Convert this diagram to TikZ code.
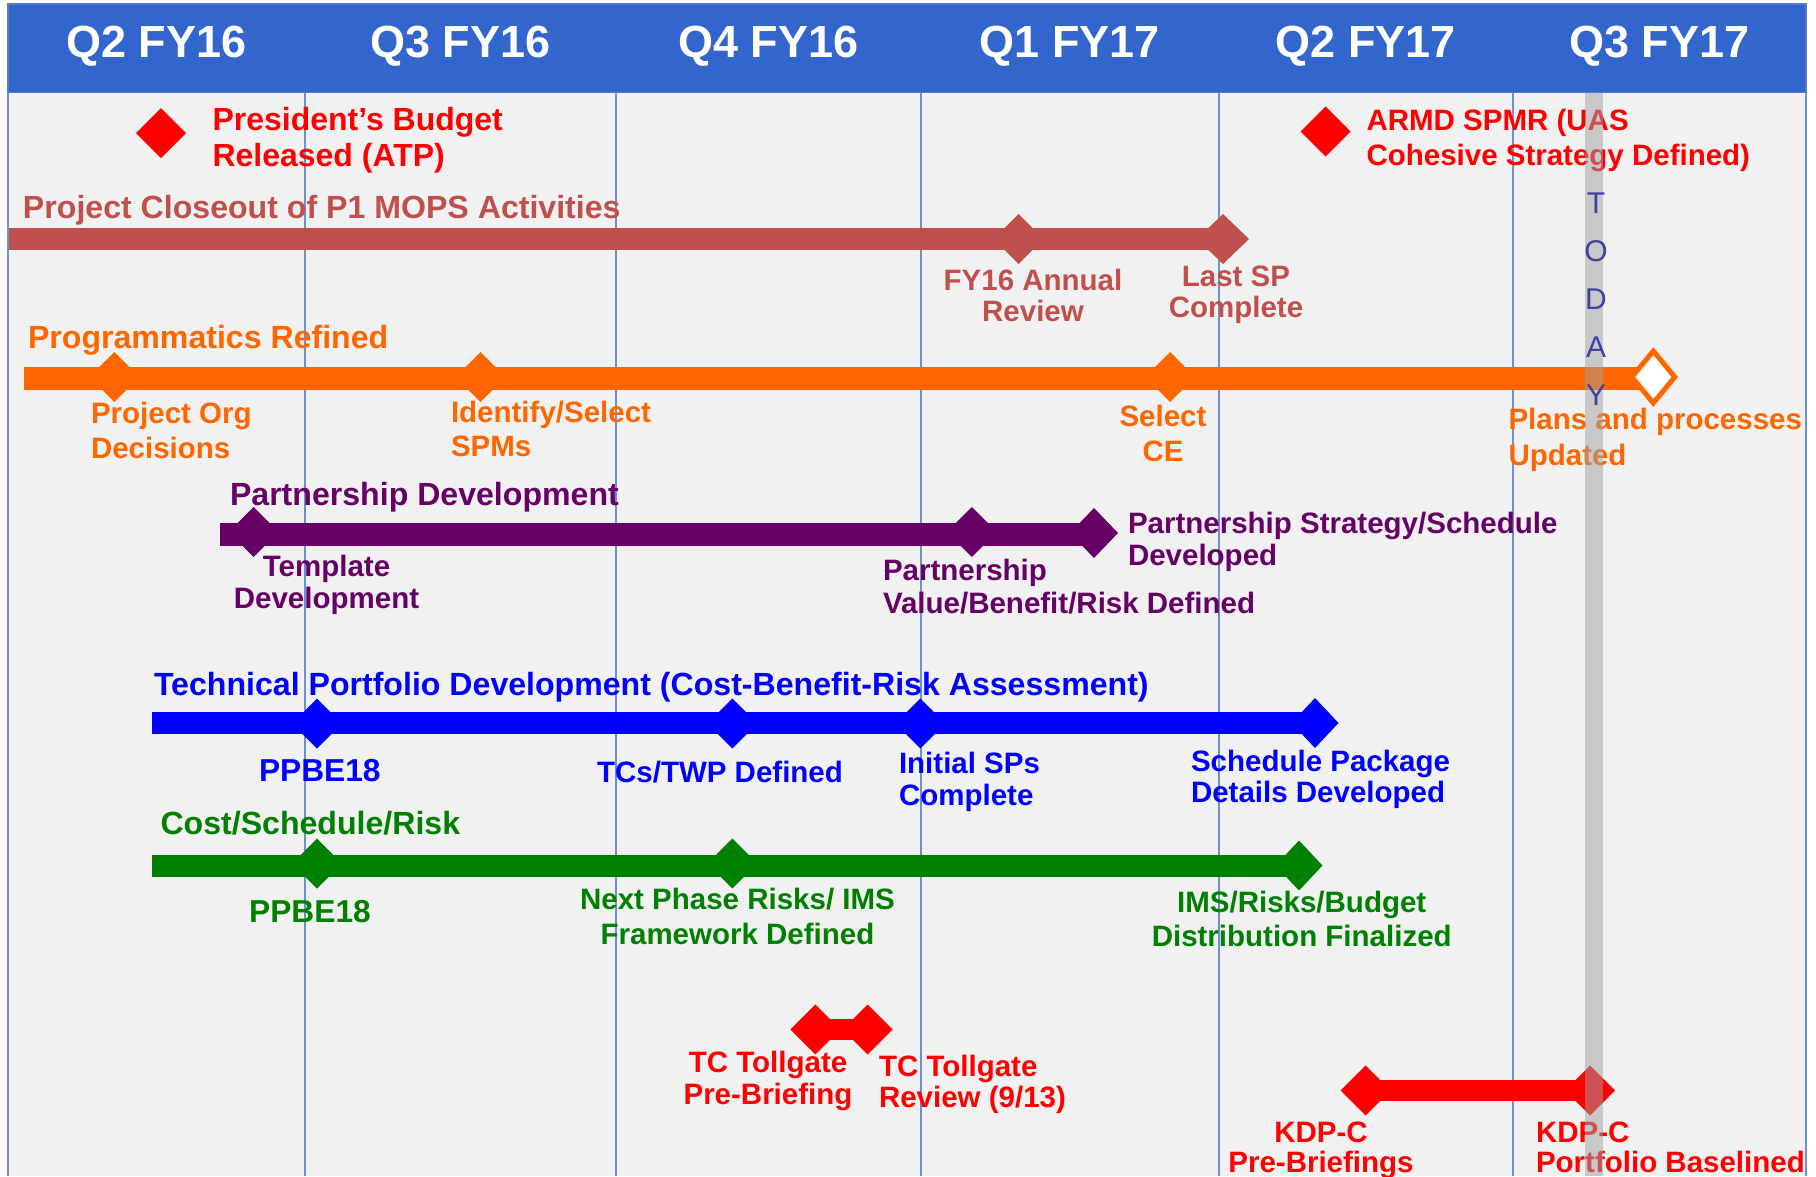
\documentclass[tikz,border=0pt]{standalone}
\usepackage{fontspec}
\setmainfont{Liberation Sans}
\usetikzlibrary{shapes.geometric}
\pgfdeclarelayer{back}
\pgfdeclarelayer{mid}
\pgfdeclarelayer{front}
\pgfsetlayers{back,mid,main,front}
\definecolor{hdr}{RGB}{51,102,204}
\definecolor{hdredge}{RGB}{85,125,195}
\definecolor{panel}{RGB}{241,241,241}
\definecolor{gridc}{RGB}{105,145,212}
\definecolor{brick}{RGB}{192,80,77}
\definecolor{orng}{RGB}{255,102,0}
\definecolor{purp}{RGB}{102,0,102}
\definecolor{blu}{RGB}{0,0,255}
\definecolor{grn}{RGB}{0,128,0}
\definecolor{rd}{RGB}{255,0,0}
\definecolor{todayc}{RGB}{64,64,160}
\definecolor{todaybar}{RGB}{160,160,160}
\begin{document}
\begin{tikzpicture}[x=1pt,y=-1pt,
  lft/.style={inner sep=0pt, outer sep=0pt, anchor=base west, align=left, font=\fontsize{29.5}{#1}\selectfont\bfseries},
  lft/.default=33,
  ctr/.style={inner sep=0pt, outer sep=0pt, anchor=base, align=center, font=\fontsize{29.5}{#1}\selectfont\bfseries},
  ctr/.default=33,
  ttl/.style={inner sep=0pt, outer sep=0pt, anchor=base west, font=\fontsize{32.1}{36}\selectfont\bfseries},
  ms/.style={shape=diamond, fill=#1, inner sep=0pt, outer sep=0pt, minimum width=50pt, minimum height=50pt},
  barline/.style={line width=22pt, draw=#1},
  qtr/.style={inner sep=0pt, anchor=base, text=white, font=\fontsize{45}{48}\selectfont\bfseries},
]
\useasboundingbox (0,0) rectangle (1816,1176);
\begin{pgfonlayer}{back}
  \fill[white] (0,0) rectangle (1816,1176);
  \fill[panel] (8,92) rectangle (1806,1176);
  \foreach \gx in {305,616,921,1219,1513}
    \draw[gridc, line width=1.3pt] (\gx,92) -- (\gx,1176);
  \draw[gridc, line width=1.6pt] (8,92) -- (8,1176);
  \draw[gridc, line width=1.6pt] (1806,92) -- (1806,1176);
  \filldraw[fill=hdr, draw=hdredge, line width=1.5pt] (8,4) rectangle (1806,92.5);
\end{pgfonlayer}

% header
\node[qtr] (h1) at (156.5,57.5) {Q2 FY16};
\node[qtr] (h2) at (460.5,57.5) {Q3 FY16};
\node[qtr] (h3) at (768.5,57.5) {Q4 FY16};
\node[qtr] (h4) at (1070,57.5) {Q1 FY17};
\node[qtr] (h5) at (1366,57.5) {Q2 FY17};
\node[qtr] (h6) at (1659.5,57.5) {Q3 FY17};

% row 1
\node[ms=rd] (pb) at (161,133) {};
\node[lft=36, text=rd, font=\fontsize{32}{36}\selectfont\bfseries] (pbt) at (212.5,166) {President’s Budget\\Released (ATP)};
\node[ms=rd] (armd) at (1325.6,131.5) {};
\node[lft=35, text=rd] (armdt) at (1366.5,165) {ARMD SPMR (UAS\\Cohesive Strategy Defined)};

% row 2
\node[ttl, text=brick] (pct) at (23,218) {Project Closeout of P1 MOPS Activities};
\coordinate (pcs) at (9,239);
\node[ms=brick] (fy16) at (1018.6,239) {};
\node[ms=brick, minimum width=52pt] (lsp) at (1223,239) {};
\begin{pgfonlayer}{mid}\draw[barline=brick] (pcs) -- (lsp.center);\end{pgfonlayer}
\node[ctr=31.7, text=brick] (fy16t) at (1033,321.7) {FY16 Annual\\Review};
\node[ctr=31, text=brick] (lspt) at (1236,317.7) {Last SP\\Complete};

% row 3
\node[ttl, text=orng] (prt) at (28,348.3) {Programmatics Refined};
\coordinate (prs) at (24.4,378.5);
\node[ms=orng] (org) at (114.3,377) {};
\node[ms=orng] (spm) at (480.5,377) {};
\node[ms=orng] (ce) at (1170,377) {};
\node[shape=diamond, draw=orng, fill=white, line width=5pt, minimum width=45pt, minimum height=54pt, inner sep=0pt] (upd) at (1653.3,377) {};
\begin{pgfonlayer}{mid}\draw[barline=orng, line width=22.5pt] (prs) -- (prs -| upd.center);\end{pgfonlayer}
\node[lft=35, text=orng] (orgt) at (91,458) {Project Org\\Decisions};
\node[lft=34, text=orng] (spmt) at (451,456.7) {Identify/Select\\SPMs};
\node[ctr=35, text=orng] (cet) at (1163,461.7) {Select\\CE};
\node[lft=35.7, text=orng] (updt) at (1508.5,465) {Plans and processes\\Updated};

% row 4
\node[ttl, text=purp] (pdt) at (230,505) {Partnership Development};
\coordinate (pds) at (220,534);
\node[ms=purp] (tmp) at (253.6,532) {};
\node[ms=purp] (pvb) at (971.9,532) {};
\node[ms=purp, minimum width=48pt] (pss) at (1094,533) {};
\begin{pgfonlayer}{mid}\draw[barline=purp, line width=23pt] (pds) -- (pds -| pss.center);\end{pgfonlayer}
\node[ctr=31.6, text=purp] (tmpt) at (326.5,608.3) {Template\\Development};
\node[lft=33.3, text=purp] (pvbt) at (883,613.3) {Partnership\\Value/Benefit/Risk Defined};
\node[lft=31.7, text=purp] (psst) at (1128,565) {Partnership Strategy/Schedule\\Developed};

% row 5
\node[ttl, text=blu] (tpt) at (154,695.5) {Technical Portfolio Development (Cost-Benefit-Risk Assessment)};
\coordinate (tps) at (152,723);
\node[ms=blu] (pp1) at (317,723.5) {};
\node[ms=blu] (tcs) at (732.4,723.5) {};
\node[ms=blu] (isp) at (920.4,723.5) {};
\node[ms=blu, minimum width=47pt] (spd) at (1315,723) {};
\begin{pgfonlayer}{mid}\draw[barline=blu] (tps) -- (spd.center);\end{pgfonlayer}
\node[ctr, text=blu, font=\fontsize{31.7}{33}\selectfont\bfseries] (pp1t) at (319.8,781.3) {PPBE18};
\node[ctr, text=blu] (tcst) at (720,782) {TCs/TWP Defined};
\node[lft=31.3, text=blu] (ispt) at (899,805) {Initial SPs\\Complete};
\node[lft=31.7, text=blu] (spdt) at (1191,802.7) {Schedule Package\\Details Developed};

% row 6
\node[ttl, text=grn] (cst) at (160.5,834.5) {Cost/Schedule/Risk};
\coordinate (css) at (152,865.5);
\node[ms=grn] (pp2) at (317,863.5) {};
\node[ms=grn] (npr) at (732.4,863.5) {};
\node[ms=grn, minimum width=47pt] (imb) at (1299,865.5) {};
\begin{pgfonlayer}{mid}\draw[barline=grn] (css) -- (imb.center);\end{pgfonlayer}
\node[ctr, text=grn, font=\fontsize{31.7}{33}\selectfont\bfseries] (pp2t) at (310,922.3) {PPBE18};
\node[ctr=35, text=grn] (nprt) at (737.5,944.7) {Next Phase Risks/ IMS\\Framework Defined};
\node[ctr=34, text=grn] (imbt) at (1301.7,946.3) {IMS/Risks/Budget\\Distribution Finalized};

% row 7
\node[ms=rd] (tcp) at (815.4,1029.5) {};
\node[ms=rd] (tcr) at (867.7,1029.5) {};
\begin{pgfonlayer}{mid}\draw[barline=rd, line width=21.5pt] (tcp.center) -- (tcr.center);\end{pgfonlayer}
\node[ctr=31.7, text=rd] (tcpt) at (768,1104.5) {TC Tollgate\\Pre-Briefing};
\node[lft=31.3, text=rd] (tcrt) at (879,1107.5) {TC Tollgate\\Review (9/13)};
\node[ms=rd] (kpb) at (1365.6,1090.5) {};
\node[ms=rd] (kpf) at (1590,1090.5) {};
\begin{pgfonlayer}{mid}\draw[barline=rd, line width=20.5pt] (kpb.center) -- (kpf.center);\end{pgfonlayer}
\node[ctr=30, text=rd] (kpbt) at (1321,1172.3) {KDP-C\\Pre-Briefings};
\node[lft=30, text=rd] (kpft) at (1536,1172.3) {KDP-C\\Portfolio Baselined};

% today marker
\begin{pgfonlayer}{front}
  \fill[todaybar, fill opacity=0.5] (1585,92.5) rectangle (1603,1176);
  \node[inner sep=0pt, anchor=base, align=center, text=todayc, font=\fontsize{30}{48}\selectfont] (tdy) at (1596,405) {T\\O\\D\\A\\Y};
\end{pgfonlayer}
\end{tikzpicture}
\end{document}
